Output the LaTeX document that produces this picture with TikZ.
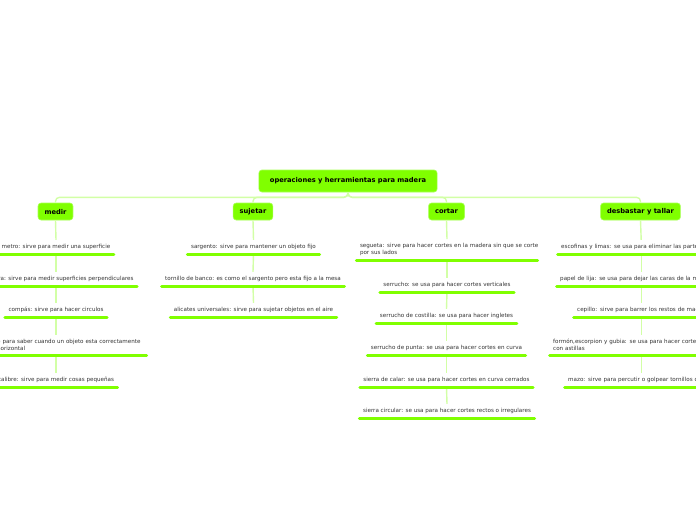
\documentclass[tikz,border=0pt]{standalone}
\usepackage{fontspec}
\setmainfont{DejaVu Sans}
\definecolor{mmgreen}{HTML}{80FF00}
\definecolor{mmedge}{HTML}{A8FF55}
\definecolor{mmlink}{HTML}{D2FFA6}
\definecolor{mmtext}{HTML}{333333}
\tikzset{
 box/.style={fill=mmgreen, draw=mmedge, line width=0.6pt, rounded corners=3pt,
   font=\fontsize{6.7}{8}\bfseries\selectfont, text=black, inner xsep=6.5pt,
   inner ysep=0pt, minimum height=17pt},
 rootbox/.style={box, inner xsep=11pt, minimum height=22pt},
 leaf/.style={font=\fontsize{5.6}{7}\selectfont, text=mmtext, inner xsep=5pt,
   inner ysep=4pt, anchor=south},
 oneline/.style={leaf, text height=4.3pt, text depth=1.4pt},
 twoline/.style={leaf, align=left},
 clipped/.style={oneline, align=left, anchor=south west},
 uline/.style={draw=mmgreen, line width=3pt, line cap=round,
   shorten <=1.5pt, shorten >=1.5pt},
 link/.style={draw=mmlink, line width=1.4pt},
}
\begin{document}
\begin{tikzpicture}[x=1pt,y=-1pt]
\useasboundingbox (0,0) rectangle (696,520);
\fill[white] (0,0) rectangle (696,520);
\clip (0,0) rectangle (696,520);

% main nodes
\node[rootbox] (root) at (348,181) {operaciones y herramientas para madera};
\node[box] (medir) at (55.5,211.5) {medir};
\node[box] (sujetar) at (253,211.5) {sujetar};
\node[box] (cortar) at (446.5,211.5) {cortar};
\node[box] (desb) at (640.5,211.5) {desbastar y tallar};

% medir
\node[oneline, minimum width=116pt] (m1) at (56,254) {metro: sirve para medir una superficie};
\node[oneline, minimum width=162pt] (m2) at (56,286) {escuadra: sirve para medir superficies perpendiculares};
\node[oneline, minimum width=102pt] (m3) at (56,317) {compás: sirve para hacer circulos};
\node[twoline, text width=174pt] (m4) at (56,355) {\mbox{nivel: sirve para saber cuando un objeto esta correctamente}\\vertical u horizontal};
\node[oneline, minimum width=124pt] (m5) at (56,387) {calibre: sirve para medir cosas pequeñas};

% sujetar
\node[oneline, minimum width=133pt] (s1) at (253.5,254) {sargento: sirve para mantener un objeto fijo};
\node[oneline, minimum width=184pt] (s2) at (253,286) {tornillo de banco: es como el sargento pero esta fijo a la mesa};
\node[oneline, minimum width=167pt] (s3) at (253.5,317) {alicates universales: sirve para sujetar objetos en el aire};

% cortar
\node[twoline, text width=174pt] (c1) at (447,260) {\mbox{segueta: sirve para hacer cortes en la madera sin que se corte}\\por sus lados};
\node[oneline, minimum width=134pt] (c2) at (447,292) {serrucho: se usa para hacer cortes verticales};
\node[oneline, minimum width=141pt] (c3) at (446.5,323) {serrucho de costilla: se usa para hacer ingletes};
\node[oneline, minimum width=159pt] (c4) at (446.5,355) {serrucho de punta: se usa para hacer cortes en curva};
\node[oneline, minimum width=173pt] (c5) at (446.5,387) {sierra de calar: se usa para hacer cortes en curva cerrados};
\node[oneline, minimum width=176pt] (c6) at (447,418) {sierra circular: se usa para hacer cortes rectos o irregulares};

% desbastar y tallar
\node[clipped, text width=160pt] (d1) at (556,254) {\mbox{escofinas y limas: se usa para eliminar las partes sobrantes}};
\node[clipped, text width=162pt] (d2) at (555,286) {\mbox{papel de lija: se usa para dejar las caras de la madera lisas}};
\node[clipped, text width=128pt] (d3) at (572,317) {\mbox{cepillo: sirve para barrer los restos de madera}};
\node[twoline, text width=176pt, anchor=south west] (d4) at (548,355) {\mbox{formón,escorpion y gubia: se usa para hacer cortes}\\con astillas};
\node[clipped, text width=146pt] (d5) at (563,387) {\mbox{mazo: sirve para percutir o golpear tornillos o clavos}};

% connectors
\begin{scope}[link, rounded corners=4pt]
\draw (root.south) -- ++(0,5) -| (medir.north);
\draw (root.south) -- ++(0,5) -| (sujetar.north);
\draw (root.south) -- ++(0,5) -| (cortar.north);
\draw (root.south) -- ++(0,5) -| (desb.north);
\end{scope}
\draw[link] (medir.south) -- (m1.north);
\draw[link] (m1.south) -- (m2.north);
\draw[link] (m2.south) -- (m3.north);
\draw[link] (m3.south) -- (m4.north);
\draw[link] (m4.south) -- (m5.north);
\draw[link] (sujetar.south) -- (s1.north);
\draw[link] (s1.south) -- (s2.north);
\draw[link] (s2.south) -- (s3.north);
\draw[link] (cortar.south) -- (c1.north);
\draw[link] (c1.south) -- (c2.north);
\draw[link] (c2.south) -- (c3.north);
\draw[link] (c3.south) -- (c4.north);
\draw[link] (c4.south) -- (c5.north);
\draw[link] (c5.south) -- (c6.north);
\draw[link] (desb.south) -- (d1.north);
\draw[link] (d1.south) -- (d2.north);
\draw[link] (d2.south) -- (d3.north);
\draw[link] (d3.south) -- (d4.north);
\draw[link] (d4.south) -- (d5.north);

% underlines
\foreach \n in {m1,m2,m3,m4,m5,s1,s2,s3,c1,c2,c3,c4,c5,c6,d1,d2,d3,d4,d5}
  \draw[uline] (\n.south west) -- (\n.south east);
\end{tikzpicture}
\end{document}
